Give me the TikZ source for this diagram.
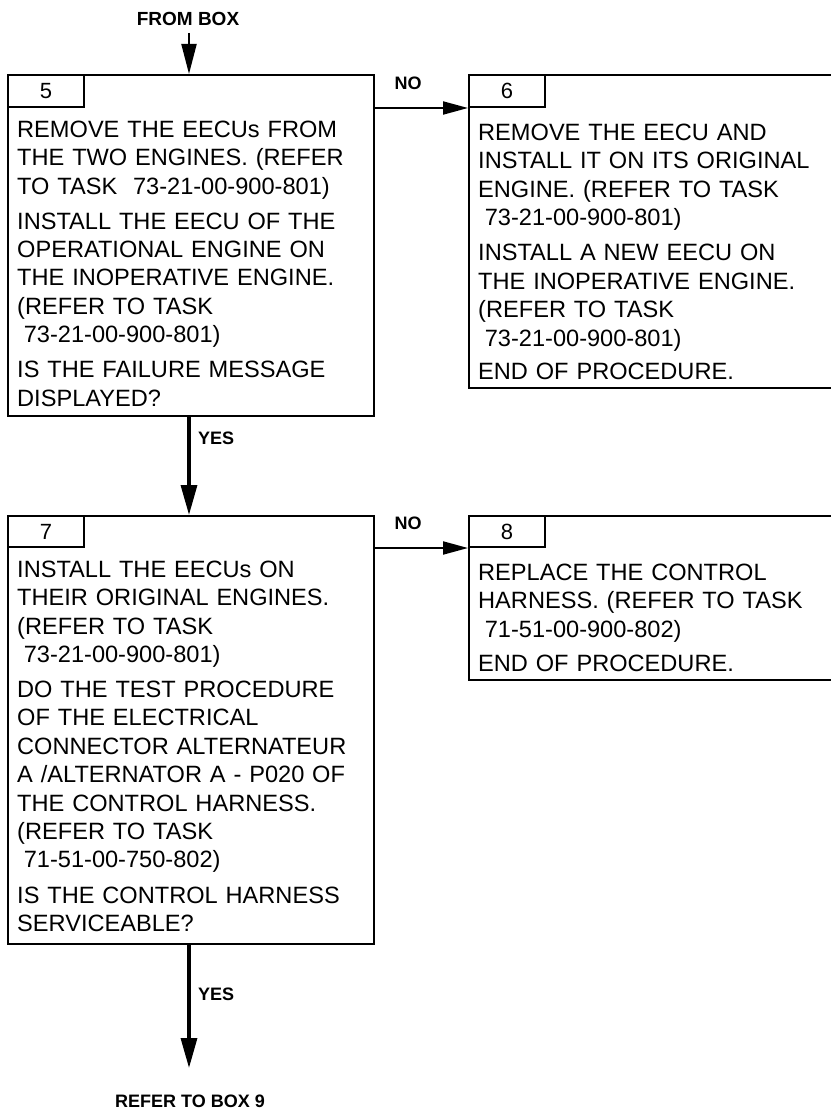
\documentclass[tikz,border=0pt]{standalone}
\usepackage{fontspec}
\setmainfont{Liberation Sans}
\usetikzlibrary{arrows.meta}
\tikzset{
  box/.style={draw, line width=2pt, inner sep=0pt, anchor=north west},
  numbox/.style={draw, line width=2pt, inner sep=0pt, anchor=north west,
    minimum width=76pt, minimum height=32pt, font=\fontsize{22}{24}\selectfont},
  body/.style={inner sep=0pt, anchor=north west, text width=352pt, align=left,
    font=\fontsize{23.6}{28.4}\selectfont},
  lbl/.style={inner sep=0pt, font=\fontsize{18}{20}\selectfont\bfseries},
  yesarrow/.style={line width=3.3pt, -{Triangle[length=30pt,width=16pt]}},
  noarrow/.style={line width=2pt, -{Triangle[length=25pt,width=13pt]}},
  fromarrow/.style={line width=2pt, -{Triangle[length=30pt,width=15pt]}},
}
\newcommand{\ind}{\hspace*{6.6pt}}
\begin{document}
\begin{tikzpicture}[x=1pt,y=1pt]
\useasboundingbox (0,0) rectangle (830,-1110);
% box 5
\node[box, minimum width=366pt, minimum height=341pt] (b5) at (7,-74) {};
\node[numbox] (n5) at (7,-74) {5};
\node[body] (t5) at (17,-117.2) {\strut REMOVE THE EECUs FROM\\
THE TWO ENGINES. (REFER\\
TO TASK\ \ 73-21-00-900-801)\\[6.7pt]
INSTALL THE EECU OF THE\\
OPERATIONAL ENGINE ON\\
THE INOPERATIVE ENGINE.\\
(REFER TO TASK\\
\ind 73-21-00-900-801)\\[6.7pt]
IS THE FAILURE MESSAGE\\
DISPLAYED?};
% box 6
\node[box, minimum width=364pt, minimum height=313pt] (b6) at (468,-74) {};
\node[numbox] (n6) at (468,-74) {6};
\node[body] (t6) at (478,-120.2) {\strut REMOVE THE EECU AND\\
INSTALL IT ON ITS ORIGINAL\\
ENGINE. (REFER TO TASK\\
\ind 73-21-00-900-801)\\[7pt]
INSTALL A NEW EECU ON\\
THE INOPERATIVE ENGINE.\\
(REFER TO TASK\\
\ind 73-21-00-900-801)\\[5pt]
END OF PROCEDURE.};
% box 7
\node[box, minimum width=366pt, minimum height=428pt] (b7) at (7,-515) {};
\node[numbox, minimum height=31pt] (n7) at (7,-515) {7};
\node[body] (t7) at (17,-557.2) {\strut INSTALL THE EECUs ON\\
THEIR ORIGINAL ENGINES.\\
(REFER TO TASK\\
\ind 73-21-00-900-801)\\[6.7pt]
DO THE TEST PROCEDURE\\
OF THE ELECTRICAL\\
CONNECTOR ALTERNATEUR\\
A /ALTERNATOR A - P020 OF\\
THE CONTROL HARNESS.\\
(REFER TO TASK\\
\ind 71-51-00-750-802)\\[6.7pt]
IS THE CONTROL HARNESS\\
SERVICEABLE?};
% box 8
\node[box, minimum width=364pt, minimum height=164pt] (b8) at (468,-515) {};
\node[numbox, minimum height=31pt] (n8) at (468,-515) {8};
\node[body] (t8) at (478,-560.2) {\strut REPLACE THE CONTROL\\
HARNESS. (REFER TO TASK\\
\ind 71-51-00-900-802)\\[6pt]
END OF PROCEDURE.};
% labels
\node[lbl, font=\fontsize{19}{21}\selectfont\bfseries] (from) at (188,-19) {FROM BOX};
\node[lbl] (no1) at (408,-83) {NO};
\node[lbl] (no2) at (408,-523) {NO};
\node[lbl, anchor=west] (yes1) at (198,-438) {YES};
\node[lbl, anchor=west] (yes2) at (198,-994) {YES};
\node[lbl] (ref9) at (190,-1101) {REFER TO BOX 9};
\coordinate (fromtop) at (189,-33);
\coordinate (end9) at (189,-1068);
% connectors
\draw[fromarrow] (fromtop) -- (fromtop |- b5.north);
\draw[yesarrow] (b5.south -| fromtop) -- (b7.north -| fromtop);
\draw[yesarrow] (b7.south -| fromtop) -- (end9);
\draw[noarrow] (b5.east |- n5.south) -- (b6.west |- n6.south);
\draw[noarrow] (b7.east |- n7.south) -- (b8.west |- n8.south);
\end{tikzpicture}
\end{document}
